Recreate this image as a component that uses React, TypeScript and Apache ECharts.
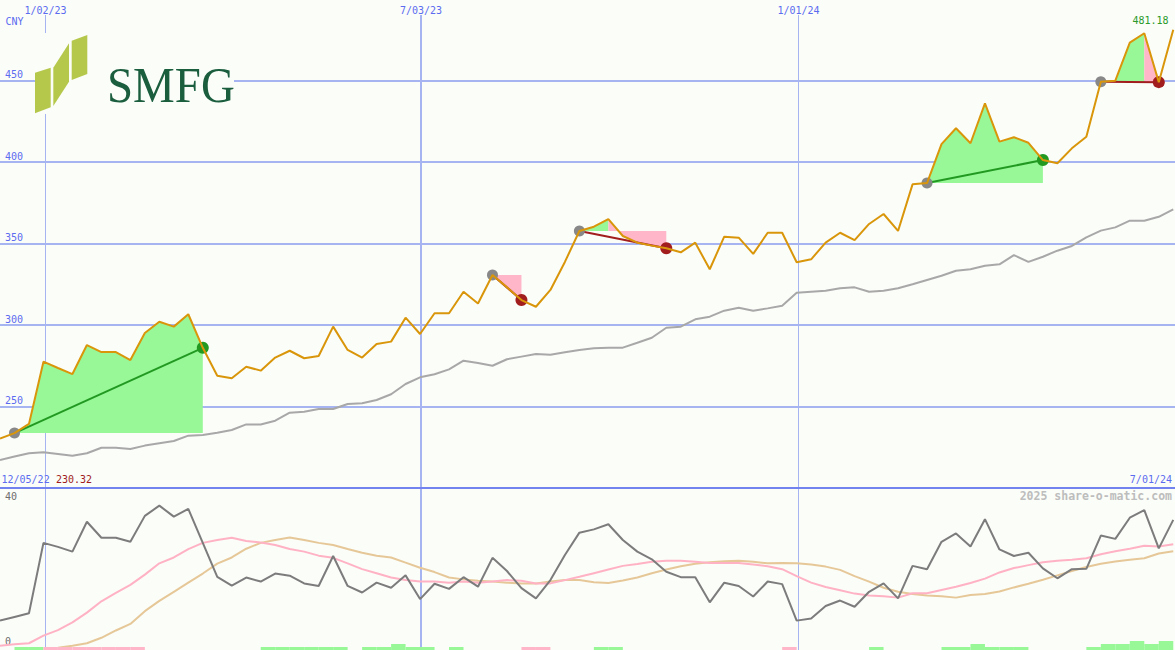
import React, { useEffect, useRef } from 'react';
import * as echarts from 'echarts';

// ---------- data (weekly points, index 0 = first week shown) ----------
const PRICE = [
  230.32, 233.7, 239.3, 277.5, 273.6, 269.9, 287.7, 283.4, 283.4, 278.5,
  295.1, 302.0, 299.0, 306.6, 286.0, 268.9, 267.3, 274.4, 272.0, 280.0,
  284.2, 279.6, 281.0, 299.0, 284.7, 280.0, 288.3, 289.8, 304.5, 294.5,
  307.2, 307.2, 320.4, 313.2, 330.7, 323.1, 315.3, 311.2, 321.5, 338.7,
  357.7, 360.3, 365.0, 354.6, 350.5, 348.7, 347.1, 344.6, 350.5, 334.2,
  354.2, 353.6, 343.6, 356.6, 356.6, 338.5, 340.3, 350.5, 356.6, 352.1,
  362.0, 368.1, 357.7, 386.3, 387.1, 411.0, 420.7, 411.5, 436.0, 412.5,
  415.2, 411.8, 401.2, 399.2, 408.4, 415.5, 449.3, 449.9, 473.2, 479.0,
  449.0, 481.18,
];
const MA = [
  217.2, 219.3, 221.3, 221.9, 220.9, 219.8, 221.3, 224.7, 224.7, 223.9,
  226.0, 227.4, 228.8, 232.1, 232.5, 233.9, 235.6, 239.0, 239.0, 241.3,
  246.2, 246.8, 248.5, 248.5, 251.5, 252.0, 254.0, 257.5, 263.8, 267.9,
  269.8, 272.8, 278.1, 276.7, 275.0, 279.0, 280.6, 282.2, 281.8, 283.3,
  284.7, 285.7, 286.1, 286.1, 289.1, 292.2, 298.3, 299.0, 303.5, 305.1,
  308.8, 310.6, 308.8, 310.2, 311.8, 319.8, 320.4, 321.0, 322.5, 323.1,
  320.4, 321.0, 322.5, 325.0, 327.6, 330.2, 333.3, 334.2, 336.4, 337.2,
  342.9, 338.7, 341.9, 345.6, 348.5, 353.8, 357.9, 359.9, 364.0, 364.0,
  366.4, 371.0,
];
const OSC = [
  7.5, 8.5, 9.5, 28.8, 27.7, 26.4, 34.6, 30.2, 30.2, 29.1,
  36.2, 39.0, 36.0, 38.1, 28.8, 19.5, 17.1, 19.3, 18.2, 20.4,
  19.8, 17.7, 17.0, 25.2, 17.0, 15.2, 17.9, 16.5, 19.9, 13.4,
  17.6, 16.2, 19.4, 16.8, 24.7, 21.1, 16.4, 13.6, 18.6, 25.5,
  31.6, 32.5, 33.9, 29.6, 26.4, 24.3, 20.9, 19.4, 19.4, 12.5,
  17.9, 17.0, 14.1, 18.2, 17.5, 7.5, 8.1, 11.5, 13.0, 11.3,
  15.4, 17.7, 13.6, 22.5, 21.6, 29.1, 31.4, 27.8, 35.3, 27.0,
  25.2, 26.1, 21.8, 19.1, 21.6, 21.7, 30.8, 29.9, 35.7, 37.8,
  27.3, 35.1,
];
const OSC_FAST = [
  0.6, 1.0, 1.3, 3.4, 4.9, 7.0, 9.7, 12.8, 15.1, 17.3,
  20.1, 23.2, 24.8, 27.1, 28.8, 29.6, 30.2, 29.3, 28.9, 28.2,
  27.1, 26.4, 25.3, 24.7, 23.2, 21.6, 20.5, 19.3, 18.6, 18.2,
  18.2, 17.9, 18.2, 17.9, 18.2, 18.6, 18.4, 17.7, 17.7, 18.6,
  19.5, 20.5, 21.5, 22.5, 23.0, 23.6, 23.9, 23.9, 23.6, 23.3,
  23.3, 23.3, 22.9, 22.4, 21.6, 19.7, 17.9, 16.7, 15.8, 14.9,
  14.4, 14.2, 13.8, 15.0, 15.0, 15.9, 16.8, 17.8, 19.0, 20.7,
  21.9, 22.7, 23.5, 23.9, 24.2, 24.6, 25.7, 26.5, 27.2, 28.0,
  27.8, 28.4,
];
const OSC_SLOW = [
  null, null, null, null, 0.1, 0.6, 1.3, 2.8, 4.8, 6.6,
  10.1, 12.9, 15.4, 17.9, 20.4, 23.1, 24.8, 27.2, 28.8, 29.6,
  30.3, 29.6, 28.8, 28.2, 27.1, 26.1, 25.3, 24.8, 23.4, 22.0,
  20.8, 19.3, 18.8, 18.4, 18.2, 17.9, 17.7, 17.7, 18.2, 18.6,
  18.6, 18.0, 17.8, 18.5, 19.3, 20.5, 21.5, 22.4, 23.1, 23.5,
  23.8, 23.9, 23.6, 23.2, 23.3, 23.2, 22.9, 22.3, 21.4, 19.7,
  18.2, 16.5, 15.4, 14.8, 14.4, 14.2, 13.8, 14.5, 14.8, 15.5,
  16.6, 17.6, 18.7, 19.9, 21.1, 22.2, 23.1, 23.7, 24.2, 24.6,
  25.9, 26.5,
];
// signal bars at the bottom: + green, - pink, magnitude = level
const BARS = [
  0, 1, 1, -1, -1, -1, -1, -1, -1, -1,
  0, 0, 0, 0, 0, 0, 0, 0, 1, 1,
  1, 1, 1, 1, 0, 1, 1, 2, 1, 1,
  0, 1, 0, 0, 0, 0, -1, -1, 0, 0,
  0, 1, 1, 0, 0, 0, 0, 0, 0, 0,
  0, 0, 0, 0, -1, 0, 0, 0, 0, 0,
  1, 0, 0, 0, 0, 1, 1, 2, 1, 1,
  1, 0, 0, 0, 0, 1, 2, 2, 3, 2,
  3,
];
const TRADE_START = [1, 34, 40, 64, 76];
const TRADE_PEAK = [14, 34, 42, 72, 79];
const TRADE_END = [14, 36, 46, 72, 80];

const PRICE_TICKS = [250, 300, 350, 400, 450];
const OSC_TICKS = [0, 40];
const DATE_LABELS = ['1/02/23', '7/03/23', '1/01/24'];
const DATE_POS = [3.14, 29.065, 55.125];
const FIRST_DATE = '12/05/22';
const LAST_DATE = '7/01/24';
const CURRENCY = 'CNY';
const WATERMARK = '2025 share-o-matic.com';
const LOGO_TEXT = 'SMFG';

// ---------- styling ----------
const XMAX = 81.12;
const BG = '#fbfdf9';
const GRID_COLOR = '#a6b4f2';
const LABEL_BLUE = '#5b6cf0';
const MONO = '"DejaVu Sans Mono", "Liberation Mono", monospace';
const GREEN_FILL = '#98f898';
const PINK_FILL = '#ffb6c8';
const SIG_GREEN = '#229a22';
const SIG_RED = '#a21e1e';
const PRICE_COLOR = '#d9960b';

export default function App() {
  const ref = useRef<HTMLDivElement>(null);

  useEffect(() => {
    document.body.style.margin = '0';
    if (!ref.current) return;
    const chart = echarts.init(ref.current, null, { renderer: 'svg' });

    const vLines = (withLabel: boolean) =>
      DATE_POS.map((x, k) => ({
        xAxis: x,
        lineStyle: { color: GRID_COLOR, width: k === 1 ? 2 : 1, type: 'solid' },
        label: withLabel
          ? { show: true, position: 'end', formatter: DATE_LABELS[k], distance: [0, 0], color: LABEL_BLUE, fontFamily: MONO, fontSize: 10 }
          : { show: false },
      }));

    const option: any = {
      animation: false,
      backgroundColor: BG,
      grid: [
        { left: 0, right: 0, top: 15, height: 472.5 },
        { left: 0, right: 0, top: 488.5, height: 161.5 },
        { left: 0, right: 0, top: 638, height: 12 },
      ],
      xAxis: [
        {
          type: 'value', gridIndex: 0, min: 0, max: XMAX,
          axisLine: { show: true, onZero: false, lineStyle: { color: '#7282ee', width: 2 } },
          axisTick: { show: false }, axisLabel: { show: false }, splitLine: { show: false },
        },
        { type: 'value', gridIndex: 1, min: 0, max: XMAX, show: false },
        { type: 'value', gridIndex: 2, min: 0, max: XMAX, show: false },
      ],
      yAxis: [
        { type: 'value', gridIndex: 0, min: 200.3, max: 490.2, show: false },
        { type: 'value', gridIndex: 1, min: -0.55, max: 43.7, show: false },
        { type: 'value', gridIndex: 2, min: 0, max: 4, show: false },
      ],
      series: [
        {
          type: 'line', xAxisIndex: 0, yAxisIndex: 0, data: [], silent: true,
          markLine: {
            z: 0, silent: true, symbol: ['none', 'none'], animation: false,
            emphasis: { disabled: true },
            data: [
              ...vLines(true),
              ...PRICE_TICKS.map((v) => ({
                yAxis: v,
                lineStyle: { color: GRID_COLOR, width: 2, type: 'solid' },
                label: { show: true, position: 'insideStartTop', formatter: String(v), distance: [5, 1], color: LABEL_BLUE, fontFamily: MONO, fontSize: 10 },
              })),
            ],
          },
        },
        {
          type: 'line', xAxisIndex: 1, yAxisIndex: 1, data: [], silent: true,
          markLine: {
            z: 0, silent: true, symbol: ['none', 'none'], animation: false,
            emphasis: { disabled: true },
            data: [
              ...vLines(false),
              ...OSC_TICKS.map((v) => ({
                yAxis: v,
                lineStyle: { color: 'rgba(0,0,0,0)', width: 1, type: 'solid' },
                label: { show: true, position: 'insideStartTop', formatter: String(v), distance: [5, 1], color: '#6e6e6e', fontFamily: MONO, fontSize: 10 },
              })),
            ],
          },
        },
        {
          type: 'custom', xAxisIndex: 0, yAxisIndex: 0, z: 1, silent: true,
          data: TRADE_START.map((s, k) => [s, TRADE_PEAK[k], TRADE_END[k]]),
          renderItem: (params: any, api: any) => {
            const s = api.value(0), p = api.value(1), e = api.value(2);
            const base = PRICE[s];
            const poly = (a: number, b: number, fill: string) => {
              const pts: number[][] = [];
              for (let i = a; i <= b; i++) pts.push(api.coord([i, PRICE[i]]));
              pts.push(api.coord([b, base]));
              pts.push(api.coord([a, base]));
              return { type: 'polygon', shape: { points: pts }, style: { fill } };
            };
            const children: any[] = [];
            if (p > s) children.push(poly(s, p, GREEN_FILL));
            if (e > p) children.push(poly(p, e, PINK_FILL));
            return { type: 'group', children };
          },
        },
        {
          type: 'line', xAxisIndex: 0, yAxisIndex: 0, z: 2, silent: true,
          data: MA.map((v, i) => [i, v]), showSymbol: false,
          lineStyle: { color: '#a8a8a8', width: 2 },
        },
        {
          type: 'custom', xAxisIndex: 0, yAxisIndex: 0, z: 4, silent: true,
          data: TRADE_START.map((s, k) => [s, TRADE_END[k]]),
          renderItem: (params: any, api: any) => {
            const s = api.value(0), e = api.value(1);
            const a = api.coord([s, PRICE[s]]);
            const b = api.coord([e, PRICE[e]]);
            const col = PRICE[e] > PRICE[s] ? SIG_GREEN : SIG_RED;
            return {
              type: 'group',
              children: [
                { type: 'line', shape: { x1: a[0], y1: a[1], x2: b[0], y2: b[1] }, style: { stroke: col, lineWidth: 2 } },
                { type: 'circle', shape: { cx: a[0], cy: a[1], r: 5.5 }, style: { fill: '#888888' } },
                { type: 'circle', shape: { cx: b[0], cy: b[1], r: 6 }, style: { fill: col } },
              ],
            };
          },
        },
        {
          type: 'line', xAxisIndex: 0, yAxisIndex: 0, z: 5, silent: true,
          data: PRICE.map((v, i) => [i, v]), showSymbol: false,
          lineStyle: { color: PRICE_COLOR, width: 2 },
        },
        {
          type: 'line', xAxisIndex: 1, yAxisIndex: 1, z: 2, silent: true,
          data: OSC_SLOW.map((v, i) => [i, v]), showSymbol: false,
          lineStyle: { color: '#e6c898', width: 2 },
        },
        {
          type: 'line', xAxisIndex: 1, yAxisIndex: 1, z: 3, silent: true,
          data: OSC_FAST.map((v, i) => [i, v]), showSymbol: false,
          lineStyle: { color: '#ffb2c4', width: 2 },
        },
        {
          type: 'line', xAxisIndex: 1, yAxisIndex: 1, z: 4, silent: true,
          data: OSC.map((v, i) => [i, v]), showSymbol: false,
          lineStyle: { color: '#7c7c7c', width: 2 },
        },
        {
          type: 'custom', xAxisIndex: 2, yAxisIndex: 2, z: 3, silent: true,
          data: BARS.map((v, i) => [i, v]).filter((d) => d[1] !== 0),
          renderItem: (params: any, api: any) => {
            const i = api.value(0), v = api.value(1);
            const p0 = api.coord([i, Math.abs(v)]);
            const p1 = api.coord([i + 1, 0]);
            return {
              type: 'rect',
              shape: { x: p0[0], y: p0[1], width: p1[0] - p0[0], height: p1[1] - p0[1] },
              style: { fill: v > 0 ? GREEN_FILL : PINK_FILL },
            };
          },
        },
      ],
      graphic: [
        { type: 'rect', z: 10, shape: { x: 35, y: 33, width: 199, height: 81 }, style: { fill: BG } },
        { type: 'polygon', z: 11, shape: { points: [[35, 72.7], [50.7, 67.7], [50.7, 107.3], [35, 113.3]] }, style: { fill: '#b6c84c' } },
        { type: 'polygon', z: 11, shape: { points: [[53.3, 67.7], [69, 43.3], [69, 81.7], [53.3, 106]] }, style: { fill: '#b6c84c' } },
        { type: 'polygon', z: 11, shape: { points: [[71.7, 40.7], [87.3, 35], [87.3, 74], [71.7, 80]] }, style: { fill: '#b6c84c' } },
        {
          type: 'text', z: 11, x: 107, y: 84.5, scaleX: 0.92,
          style: { text: LOGO_TEXT, fill: '#1b5e3e', font: '51px "Liberation Serif", "DejaVu Serif", serif', verticalAlign: 'middle', align: 'left' },
        },
        { type: 'text', z: 11, x: 5.5, y: 21.7, style: { text: CURRENCY, fill: LABEL_BLUE, font: `10px ${MONO}`, verticalAlign: 'middle', align: 'left' } },
        { type: 'text', z: 11, x: 1.5, y: 479, style: { text: FIRST_DATE, fill: LABEL_BLUE, font: `10px ${MONO}`, verticalAlign: 'middle', align: 'left' } },
        { type: 'text', z: 11, x: 56, y: 479, style: { text: PRICE[0].toFixed(2), fill: '#a01c1c', font: `10px ${MONO}`, verticalAlign: 'middle', align: 'left' } },
        { type: 'text', z: 11, x: 1172, y: 479, style: { text: LAST_DATE, fill: LABEL_BLUE, font: `10px ${MONO}`, verticalAlign: 'middle', align: 'right' } },
        { type: 'text', z: 11, x: 1168.5, y: 20.5, style: { text: PRICE[PRICE.length - 1].toFixed(2), fill: '#2a9a2a', font: `10px ${MONO}`, verticalAlign: 'middle', align: 'right' } },
        { type: 'text', z: 11, x: 1172, y: 496, style: { text: WATERMARK, fill: '#bdbdbd', font: `bold 11.5px ${MONO}`, verticalAlign: 'middle', align: 'right' } },
      ],
    };

    chart.setOption(option);
    return () => chart.dispose();
  }, []);

  return (
    <div
      ref={ref}
      style={{ position: 'absolute', left: 0, top: 0, width: 1175, height: 650, background: BG }}
    />
  );
}
